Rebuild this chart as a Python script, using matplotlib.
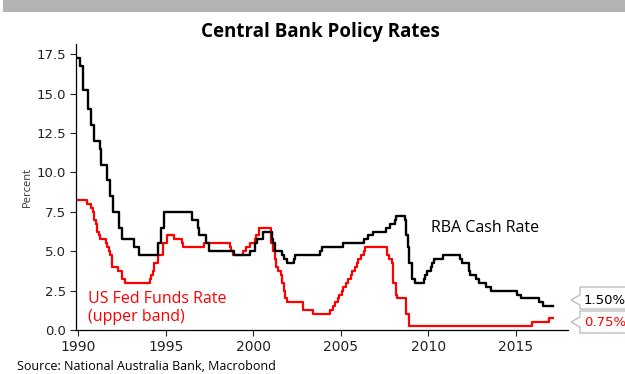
import matplotlib
matplotlib.use("Agg")
import matplotlib.pyplot as plt
from matplotlib.patches import Rectangle, Polygon
import pandas as pd

# RBA cash rate target, change dates and levels
rba_dates = ["1990-01", "1990-02", "1990-04", "1990-08", "1990-10", "1990-12",
             "1991-04", "1991-05", "1991-09", "1991-11", "1992-01", "1992-05",
             "1992-07", "1993-03", "1993-07", "1994-08", "1994-10", "1994-12",
             "1996-07", "1996-11", "1996-12", "1997-05", "1997-07", "1998-12",
             "1999-11", "2000-02", "2000-04", "2000-08", "2001-02", "2001-03",
             "2001-04", "2001-09", "2001-10", "2001-12", "2002-05", "2002-06",
             "2003-11", "2003-12", "2005-03", "2006-05", "2006-08", "2006-11",
             "2007-08", "2007-11", "2008-02", "2008-03", "2008-09", "2008-10",
             "2008-11", "2008-12", "2009-02", "2009-04", "2009-10", "2009-11",
             "2009-12", "2010-03", "2010-04", "2010-05", "2010-11", "2011-11",
             "2011-12", "2012-05", "2012-06", "2012-10", "2012-12", "2013-05",
             "2013-08", "2015-02", "2015-05", "2016-05", "2016-08", "2017-03"]
rba_rate = [17.25, 16.75, 15.25, 14.0, 13.0, 12.0,
            11.5, 10.5, 9.5, 8.5, 7.5, 6.5,
            5.75, 5.25, 4.75, 5.5, 6.5, 7.5,
            7.0, 6.5, 6.0, 5.5, 5.0, 4.75,
            5.0, 5.5, 5.75, 6.25, 5.75, 5.5,
            5.0, 4.75, 4.5, 4.25, 4.5, 4.75,
            5.0, 5.25, 5.5, 5.75, 6.0, 6.25,
            6.5, 6.75, 7.0, 7.25, 7.0, 6.0,
            5.25, 4.25, 3.25, 3.0, 3.25, 3.5,
            3.75, 4.0, 4.25, 4.5, 4.75, 4.5,
            4.25, 3.75, 3.5, 3.25, 3.0, 2.75,
            2.5, 2.25, 2.0, 1.75, 1.5, 1.5]

# US fed funds target (upper band)
fed_dates = ["1990-01", "1990-07", "1990-10", "1990-11", "1990-12", "1991-01",
             "1991-02", "1991-03", "1991-04", "1991-08", "1991-09", "1991-10",
             "1991-11", "1991-12", "1992-04", "1992-07", "1992-09", "1994-02",
             "1994-03", "1994-04", "1994-05", "1994-08", "1994-11", "1995-02",
             "1995-07", "1995-12", "1996-01", "1997-03", "1998-09", "1998-10",
             "1998-11", "1999-06", "1999-08", "1999-11", "2000-02", "2000-03",
             "2000-05", "2001-01", "2001-03", "2001-04", "2001-05", "2001-06",
             "2001-08", "2001-09", "2001-10", "2001-11", "2001-12", "2002-11",
             "2003-06", "2004-06", "2004-08", "2004-09", "2004-11", "2004-12",
             "2005-02", "2005-03", "2005-05", "2005-06", "2005-08", "2005-09",
             "2005-11", "2005-12", "2006-01", "2006-03", "2006-05", "2006-06",
             "2007-09", "2007-10", "2007-12", "2008-01", "2008-03", "2008-04",
             "2008-10", "2008-12", "2015-12", "2016-12", "2017-03"]
fed_rate = [8.25, 8.0, 7.75, 7.5, 7.0, 6.75,
            6.25, 6.0, 5.75, 5.5, 5.25, 5.0,
            4.75, 4.0, 3.75, 3.25, 3.0, 3.25,
            3.5, 3.75, 4.25, 4.75, 5.5, 6.0,
            5.75, 5.5, 5.25, 5.5, 5.25, 5.0,
            4.75, 5.0, 5.25, 5.5, 5.75, 6.0,
            6.5, 5.5, 5.0, 4.5, 4.0, 3.75,
            3.5, 3.0, 2.5, 2.0, 1.75, 1.25,
            1.0, 1.25, 1.5, 1.75, 2.0, 2.25,
            2.5, 2.75, 3.0, 3.25, 3.5, 3.75,
            4.0, 4.25, 4.5, 4.75, 5.0, 5.25,
            4.75, 4.5, 4.25, 3.0, 2.25, 2.0,
            1.0, 0.25, 0.5, 0.75, 0.75]

y_ticks = [0.0, 2.5, 5.0, 7.5, 10.0, 12.5, 15.0, 17.5]
x_years = [1990, 1995, 2000, 2005, 2010, 2015]
end_labels = ["1.50%", "0.75%"]

txt_font = ["Open Sans", "DejaVu Sans"]

fig = plt.figure(figsize=(6.25, 3.74), dpi=100)
W, H = 625, 374

# grey band at the top
fig.patches.append(Rectangle((3 / W, 1 - 12 / H), 1, 12 / H, transform=fig.transFigure,
                             facecolor="#b3b3b3", edgecolor="none"))

ax = fig.add_axes([76 / W, 44 / H, (568 - 76) / W, (330 - 44) / H])

rba_x = pd.to_datetime(rba_dates)
fed_x = pd.to_datetime(fed_dates)
ax.step(rba_x, rba_rate, where="post", color="black", lw=1.7, zorder=3)
ax.step(fed_x, fed_rate, where="post", color="#ff0000", lw=1.6, zorder=2)

ax.set_ylim(0, 18.15)
ax.set_xlim(pd.Timestamp("1989-11-15"), pd.Timestamp("2018-01-01"))
ax.set_yticks(y_ticks)
ax.set_yticklabels([f"{v:.1f}" for v in y_ticks], fontsize=9.5, family="DejaVu Sans")
ax.set_xticks([pd.Timestamp(f"{y}-01-01") for y in x_years])
ax.set_xticklabels([str(y) for y in x_years], fontsize=10, family="DejaVu Sans")
ax.tick_params(axis="y", length=4, width=0.8, pad=3, colors="#222222")
ax.tick_params(axis="x", length=4, width=0.8, pad=3, colors="#222222")
for s in ["top", "right"]:
    ax.spines[s].set_visible(False)
ax.spines["left"].set_linewidth(0.9)
ax.spines["bottom"].set_linewidth(0.9)
ax.set_ylabel("Percent", fontsize=8, family=txt_font, color="#333333", labelpad=3)

fig.text(0.512, 1 - 32 / H, "Central Bank Policy Rates", ha="center", va="center",
         fontsize=13.5, fontweight="bold", family=txt_font)

ax.text(pd.Timestamp("2010-03-01"), 6.45, "RBA Cash Rate", fontsize=11.5,
        family=txt_font, va="center", ha="left")
ax.text(pd.Timestamp("1990-08-01"), 1.4, "US Fed Funds Rate\n(upper band)", fontsize=11.5,
        family=txt_font, va="center", ha="left", color="#ff0000", linespacing=1.15)

fig.text(17 / W, 1 - 366 / H, "Source: National Australia Bank, Macrobond",
         fontsize=9, family=txt_font, va="center", ha="left")

# callout boxes at the right edge
boxes = [(287, 309, 300, "black"), (311, 333, 322, "#ff0000")]
for (top, bot, tip, col), lab in zip(boxes, end_labels):
    pts = [(580, top), (640, top), (640, bot), (580, bot), (580, tip + 5),
           (571, tip), (580, tip - 5)]
    pts = [(x / W, 1 - y / H) for x, y in pts]
    fig.patches.append(Polygon(pts, closed=True, transform=fig.transFigure,
                               facecolor="white", edgecolor="#b8b8b8", lw=0.9))
    fig.text(584 / W, 1 - tip / H, lab, fontsize=9.5, family="DejaVu Sans",
             color=col, va="center", ha="left")

fig.savefig("out.png", dpi=100)
